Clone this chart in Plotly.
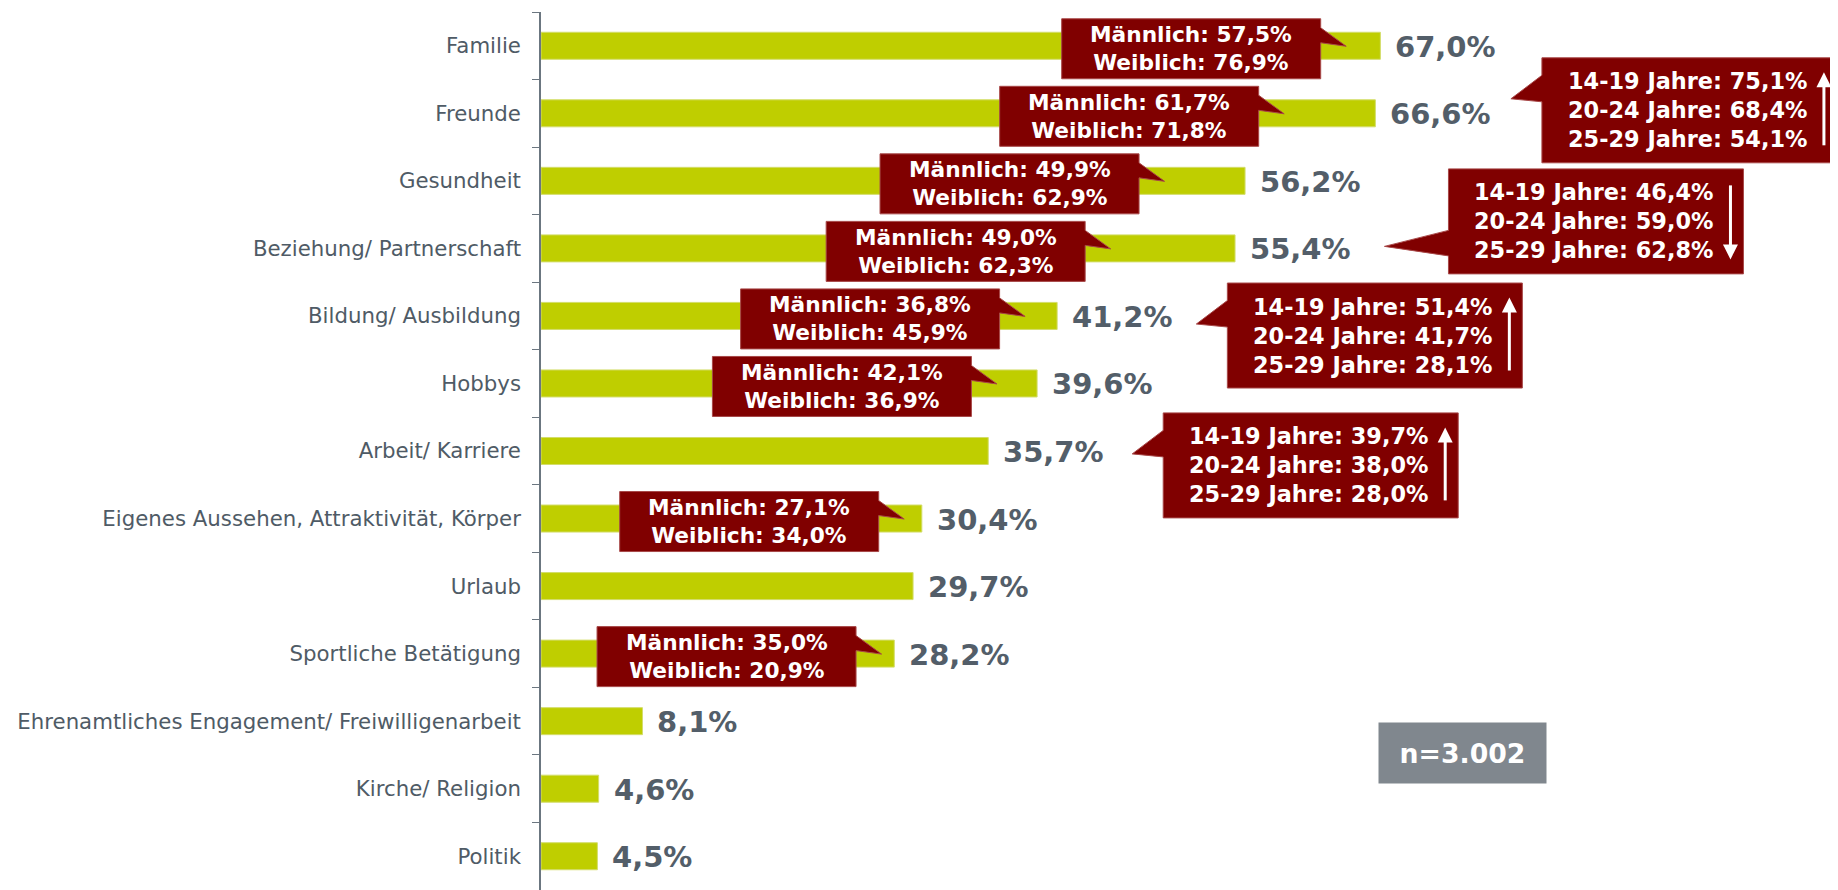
import plotly.graph_objects as go

categories = ["Familie", "Freunde", "Gesundheit", "Beziehung/ Partnerschaft",
              "Bildung/ Ausbildung", "Hobbys", "Arbeit/ Karriere",
              "Eigenes Aussehen, Attraktivität, Körper", "Urlaub",
              "Sportliche Betätigung",
              "Ehrenamtliches Engagement/ Freiwilligenarbeit",
              "Kirche/ Religion", "Politik"]
values = [67.0, 66.6, 56.2, 55.4, 41.2, 39.6, 35.7, 30.4, 29.7, 28.2, 8.1, 4.6, 4.5]

# breakdown by gender
gender_cats = ["Familie", "Freunde", "Gesundheit", "Beziehung/ Partnerschaft",
               "Bildung/ Ausbildung", "Hobbys",
               "Eigenes Aussehen, Attraktivität, Körper", "Sportliche Betätigung"]
male = [57.5, 61.7, 49.9, 49.0, 36.8, 42.1, 27.1, 35.0]
female = [76.9, 71.8, 62.9, 62.3, 45.9, 36.9, 34.0, 20.9]

# breakdown by age group
age_cats = ["Freunde", "Beziehung/ Partnerschaft", "Bildung/ Ausbildung", "Arbeit/ Karriere"]
age_groups = ["14-19 Jahre", "20-24 Jahre", "25-29 Jahre"]
age_14_19 = [75.1, 46.4, 51.4, 39.7]
age_20_24 = [68.4, 59.0, 41.7, 38.0]
age_25_29 = [54.1, 62.8, 28.1, 28.0]
age_trend = ["up", "down", "up", "up"]

sample_label = "n=3.002"

# callout placement (x in axis units, dy in screen px below the bar centre)
gender_box_x = [51.9, 46.95, 37.4, 33.1, 26.27, 24.02, 16.62, 14.81]
age_box_x = [91.67, 84.21, 66.56, 61.44]
age_box_dy = [-3, -27, 19.6, 14.4]

FONT = "DejaVu Sans"
BAR = "#BFCE00"
RED = "#800000"
GREY_TXT = "#535e69"


def pct(v):
    return f"{v:.1f}%".replace(".", ",")


def pix_path(points):
    return "M " + " L ".join(f"{x},{y}" for x, y in points) + " Z"


fig = go.Figure(go.Bar(
    x=values, y=categories, orientation="h", width=0.4,
    marker=dict(color=BAR, line=dict(color="#d3dd6a", width=1)),
    hoverinfo="skip"))

shapes = []
annotations = []

# value labels
for i, v in enumerate(values):
    annotations.append(dict(x=v, y=i, xref="x", yref="y", text=f"<b>{pct(v)}</b>",
                            showarrow=False, xanchor="left", xshift=13, yshift=-1,
                            font=dict(family=FONT, size=29, color=GREY_TXT)))

# gender callouts
for cat, m, w, bx in zip(gender_cats, male, female, gender_box_x):
    i = categories.index(cat)
    off = -3
    pts = [(-129.5, 30), (129.5, 30), (129.5, 21), (155, 2.5), (129.5, 6),
           (129.5, -30), (-129.5, -30)]
    shapes.append(dict(type="path", xref="x", yref="y", xsizemode="pixel", ysizemode="pixel",
                       xanchor=bx, yanchor=i,
                       path=pix_path([(x, y + off) for x, y in pts]),
                       fillcolor=RED, line=dict(color="#a84848", width=1)))
    annotations.append(dict(x=bx, y=i, xref="x", yref="y", yshift=off, showarrow=False,
                            text=f"<b>Männlich: {pct(m)}<br>Weiblich: {pct(w)}</b>",
                            font=dict(family=FONT, size=21.7, color="white")))

# age callouts
for k, cat in enumerate(age_cats):
    i = categories.index(cat)
    bx = age_box_x[k]
    off = -age_box_dy[k]
    if age_trend[k] == "down":
        ptr = [(-147.5, -34.5), (-211.5, -25), (-147.5, -9)]
    else:
        ptr = [(-147.5, 8.5), (-178.5, 11.5), (-147.5, 35)]
    pts = [(-147.5, 52.5), (147.5, 52.5), (147.5, -52.5), (-147.5, -52.5)] + ptr
    shapes.append(dict(type="path", xref="x", yref="y", xsizemode="pixel", ysizemode="pixel",
                       xanchor=bx, yanchor=i,
                       path=pix_path([(x, y + off) for x, y in pts]),
                       fillcolor=RED, line=dict(color="#a84848", width=1)))
    # trend arrow
    if age_trend[k] == "up":
        head, tail, s = 38, -35, 1
    else:
        head, tail, s = -38, 36, -1
    ax = 134.5
    shaft = [(ax - 1.5, tail), (ax + 1.5, tail), (ax + 1.5, head - s * 14), (ax - 1.5, head - s * 14)]
    tri = [(ax - 7.5, head - s * 15), (ax + 7.5, head - s * 15), (ax, head)]
    for p in (shaft, tri):
        shapes.append(dict(type="path", xref="x", yref="y", xsizemode="pixel", ysizemode="pixel",
                           xanchor=bx, yanchor=i,
                           path=pix_path([(x, y + off) for x, y in p]),
                           fillcolor="white", line=dict(width=0)))
    vals = [age_14_19[k], age_20_24[k], age_25_29[k]]
    txt = "<br>".join(f"{g}: {pct(v)}" for g, v in zip(age_groups, vals))
    annotations.append(dict(x=bx, y=i, xref="x", yref="y", xshift=-2, yshift=off,
                            showarrow=False, text=f"<b>{txt}</b>", align="left",
                            font=dict(family=FONT, size=22.4, color="white")))

# sample size box
annotations.append(dict(x=73.55, y=10.47, xref="x", yref="y", showarrow=False,
                        text=f"<b>{sample_label}</b>", bgcolor="#80878e",
                        width=167, height=60, borderpad=0,
                        font=dict(family=FONT, size=26.7, color="white")))

# the page body has an 8px margin, so the figure is shifted by that much
fig.update_layout(
    width=1830, height=882,
    margin=dict(l=533, r=0, t=4, b=0),
    paper_bgcolor="white", plot_bgcolor="white",
    showlegend=False,
    shapes=shapes, annotations=annotations,
    xaxis=dict(range=[0, 103.53], visible=False),
    yaxis=dict(type="category", range=[12.5, -0.5], showgrid=False,
               showline=True, linecolor="#6b7680", linewidth=1.5,
               ticks="outside", tickson="boundaries", ticklen=7, tickcolor="#6b7680",
               ticklabelstandoff=14,
               tickfont=dict(family=FONT, size=21.3, color="#4f5b66")),
)

fig.write_html("out.html")
